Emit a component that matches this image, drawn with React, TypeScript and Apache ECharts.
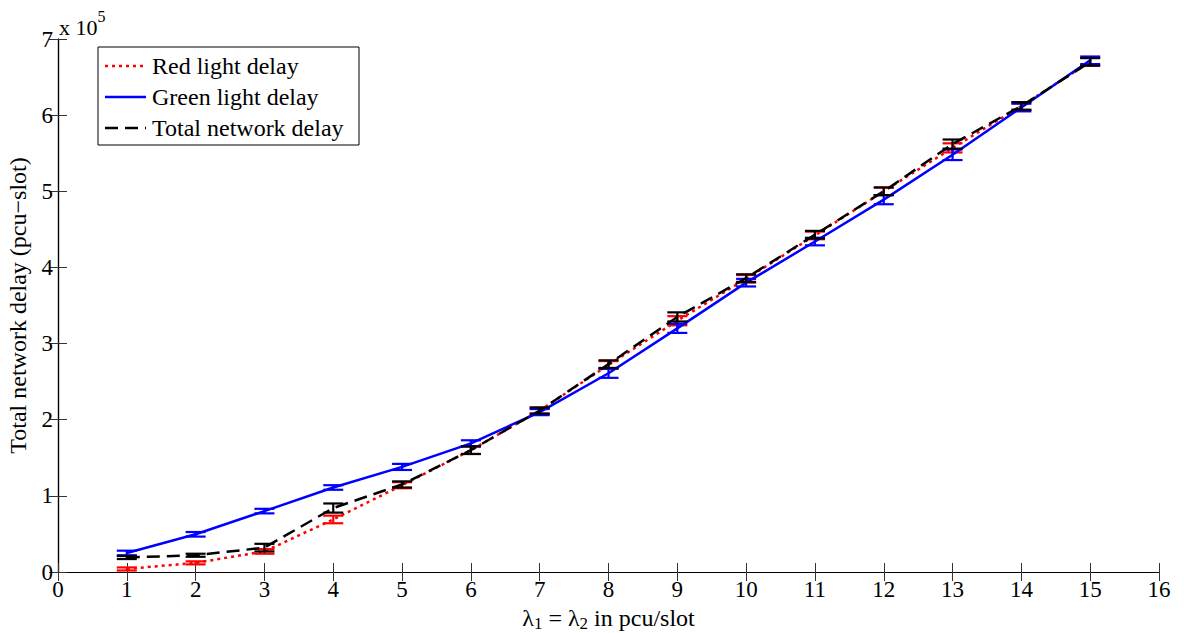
import React, { useEffect, useRef } from "react";
import * as echarts from "echarts";

const lambdas = [1, 2, 3, 4, 5, 6, 7, 8, 9, 10, 11, 12, 13, 14, 15];
const redDelay = [4000, 12000, 27000, 69000, 114000, 160000, 212000, 272000, 330000, 385000, 442000, 500000, 557000, 612000, 670000];
const redErr = [2000, 2000, 3000, 5000, 4000, 5000, 4000, 5000, 6000, 5000, 5000, 5000, 6000, 5000, 5000];
const greenDelay = [25000, 49500, 80000, 111000, 138000, 169000, 210000, 261000, 320000, 380000, 434000, 489000, 548000, 610000, 672000];
const greenErr = [3000, 3000, 3000, 3000, 4000, 4000, 4000, 6000, 6000, 5000, 5000, 6000, 7000, 5000, 5000];
const totalDelay = [19000, 22000, 32000, 84000, 115000, 160000, 212000, 273000, 335000, 386000, 443000, 500000, 562000, 612000, 670000];
const totalErr = [2000, 2000, 5000, 6000, 4000, 5000, 4000, 5000, 6000, 5000, 5000, 5000, 6000, 5000, 5000];
const xRange = [0, 16];
const yRange = [0, 700000];
const legendNames = ["Red light delay", "Green light delay", "Total network delay"];

const FONT = "Liberation Serif";

function errData(vals: number[], errs: number[]) {
  return lambdas.map((x, i) => [x, vals[i] - errs[i], vals[i] + errs[i]]);
}

function errSeries(vals: number[], errs: number[], color: string, z: number) {
  return {
    type: "custom",
    z,
    data: errData(vals, errs),
    encode: { x: 0, y: [1, 2] },
    renderItem: (params: any, api: any) => {
      const x = api.value(0);
      const p1 = api.coord([x, api.value(1)]);
      const p2 = api.coord([x, api.value(2)]);
      const hw = 10;
      const st = { stroke: color, lineWidth: 2.2 };
      return {
        type: "group",
        children: [
          { type: "line", shape: { x1: p1[0], y1: p1[1], x2: p2[0], y2: p2[1] }, style: st },
          { type: "line", shape: { x1: p1[0] - hw, y1: p1[1], x2: p1[0] + hw, y2: p1[1] }, style: st },
          { type: "line", shape: { x1: p2[0] - hw, y1: p2[1], x2: p2[0] + hw, y2: p2[1] }, style: st },
        ],
      };
    },
  };
}

export default function App() {
  const ref = useRef<HTMLDivElement>(null);
  useEffect(() => {
    const chart = echarts.init(ref.current!, null, { renderer: "svg" });
    const axisCommon = {
      type: "value",
      axisLine: { show: true, lineStyle: { color: "#000", width: 1.2 } },
      axisTick: { show: true, inside: true, length: 9, lineStyle: { color: "#333", width: 1 } },
      splitLine: { show: false },
    };
    const option: any = {
      animation: false,
      backgroundColor: "#fff",
      grid: { left: 58, right: 25, top: 39, bottom: 61, show: false, outerBoundsMode: "none", containLabel: false },
      xAxis: [
        {
          ...axisCommon,
          position: "bottom",
          min: xRange[0],
          max: xRange[1],
          interval: 1,
          axisLabel: { color: "#000", fontFamily: FONT, fontSize: 23, margin: 6 },
          name: "{n|λ}{s|1}{n| = λ}{s|2}{n| in pcu/slot}",
          nameLocation: "middle",
          nameGap: 27,
          nameTextStyle: {
            rich: {
              n: { fontFamily: FONT, fontSize: 24, color: "#000" },
              s: { fontFamily: FONT, fontSize: 17, color: "#000", padding: [12, 0, 0, 0], verticalAlign: "bottom" },
            },
          },
        },
        {
          ...axisCommon,
          position: "top",
          min: xRange[0],
          max: xRange[1],
          interval: 1,
          axisLabel: { show: false },
        },
      ],
      yAxis: [
        {
          ...axisCommon,
          position: "left",
          min: yRange[0],
          max: yRange[1],
          interval: 100000,
          axisLabel: {
            color: "#000",
            fontFamily: FONT,
            fontSize: 23,
            margin: 5,
            formatter: (v: number) => String(Math.round(v / 100000)),
          },
          name: "Total network delay (pcu−slot)",
          nameLocation: "middle",
          nameGap: 28,
          nameTextStyle: { fontFamily: FONT, fontSize: 24, color: "#000" },
        },
        {
          ...axisCommon,
          position: "right",
          min: yRange[0],
          max: yRange[1],
          interval: 100000,
          axisLabel: { show: false },
        },
      ],
      series: [
        {
          name: legendNames[0],
          type: "line",
          data: lambdas.map((x, i) => [x, redDelay[i]]),
          symbol: "none",
          z: 3,
          lineStyle: { color: "#ff0000", width: 2.5, type: [3, 4] },
        },
        errSeries(redDelay, redErr, "#ff0000", 3),
        {
          name: legendNames[1],
          type: "line",
          data: lambdas.map((x, i) => [x, greenDelay[i]]),
          symbol: "none",
          z: 4,
          lineStyle: { color: "#0000ff", width: 2.5, type: "solid" },
        },
        errSeries(greenDelay, greenErr, "#0000ff", 4),
        {
          name: legendNames[2],
          type: "line",
          data: lambdas.map((x, i) => [x, totalDelay[i]]),
          symbol: "none",
          z: 5,
          lineStyle: { color: "#000", width: 2.5, type: [13, 7] },
        },
        errSeries(totalDelay, totalErr, "#000", 5),
      ],
      graphic: [
        {
          type: "text",
          left: 59,
          top: 8,
          style: {
            text: "{n|x 10}{s|5}",
            rich: {
              n: { fontFamily: FONT, fontSize: 22, fill: "#000", padding: [8, 0, 0, 0] },
              s: { fontFamily: FONT, fontSize: 16, fill: "#000", verticalAlign: "top" },
            },
          },
        },
        {
          type: "group",
          z: 100,
          children: [
            { type: "rect", shape: { x: 98, y: 47, width: 261, height: 98 }, style: { fill: "#fff", stroke: "#000", lineWidth: 1 } },
            { type: "line", shape: { x1: 105, y1: 66, x2: 146, y2: 66 }, style: { stroke: "#ff0000", lineWidth: 2.5, lineDash: [3, 4] } },
            { type: "line", shape: { x1: 105, y1: 97, x2: 146, y2: 97 }, style: { stroke: "#0000ff", lineWidth: 2.5 } },
            { type: "line", shape: { x1: 105, y1: 128, x2: 146, y2: 128 }, style: { stroke: "#000", lineWidth: 2.5, lineDash: [13, 7] } },
            { type: "text", x: 152, y: 66, style: { text: legendNames[0], fontFamily: FONT, fontSize: 24, fill: "#000", verticalAlign: "middle" } },
            { type: "text", x: 152, y: 97, style: { text: legendNames[1], fontFamily: FONT, fontSize: 24, fill: "#000", verticalAlign: "middle" } },
            { type: "text", x: 152, y: 128, style: { text: legendNames[2], fontFamily: FONT, fontSize: 24, fill: "#000", verticalAlign: "middle" } },
          ],
        },
      ],
    };
    chart.setOption(option);
    return () => chart.dispose();
  }, []);
  return <div ref={ref} style={{ position: "fixed", left: 0, top: 0, width: 1184, height: 633, background: "#fff" }} />;
}
